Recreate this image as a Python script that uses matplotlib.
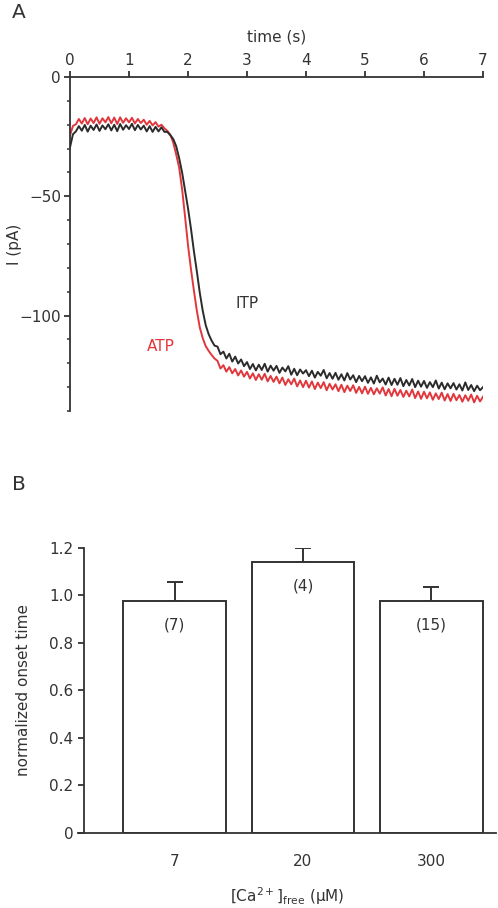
"""Current traces (ITP vs ATP) and normalized onset time vs free Ca2+."""
import matplotlib
matplotlib.use('Agg')

import matplotlib.pyplot as plt
from matplotlib.ticker import MultipleLocator
import numpy as np

# --- panel A: current traces, one value every 0.05 s from 0 to 7 s
time_s = np.round(np.arange(0, 141) * 0.05, 2)

itp_pa = [
    -29.5, -24.0, -22.8, -20.6, -22.5, -20.1, -22.9, -20.4, -22.2, -19.9,
    -22.6, -20.3, -21.9, -19.8, -22.4, -20.0, -22.7, -19.7, -22.1, -20.2,
    -21.8, -19.6, -22.3, -20.1, -22.0, -20.4, -22.8, -20.6, -23.0, -20.9,
    -22.8, -21.1, -23.0, -23.0, -24.4, -26.0, -29.0, -34.0, -40.0, -47.5,
    -55.0, -63.5, -73.0, -81.5, -90.5, -98.0, -104.0, -107.8, -110.5, -112.6,
    -113.0, -116.2, -115.1, -118.0, -116.0, -119.3, -117.2, -120.1, -118.4, -121.2,
    -119.5, -122.4, -120.3, -123.0, -120.6, -122.8, -120.2, -123.5, -121.0, -123.1,
    -121.1, -124.0, -121.8, -123.4, -121.2, -124.8, -122.3, -125.0, -122.6, -124.3,
    -122.9, -125.4, -123.1, -126.0, -123.6, -125.2, -122.8, -126.3, -124.1, -126.5,
    -124.0, -126.9, -124.6, -127.2, -124.1, -126.8, -125.0, -127.9, -125.3, -127.5,
    -125.4, -128.2, -125.9, -128.5, -125.2, -128.0, -126.4, -128.9, -126.0, -129.1,
    -126.5, -129.0, -126.2, -129.6, -127.0, -129.3, -126.6, -130.0, -127.3, -129.8,
    -127.4, -130.3, -127.9, -130.0, -127.2, -130.6, -128.1, -130.9, -128.4, -130.5,
    -128.3, -131.0, -128.8, -131.4, -128.0, -131.2, -129.1, -131.7, -129.4, -131.3,
    -130.0,
]

atp_pa = [
    -24.5, -20.5, -19.8, -17.6, -19.5, -17.2, -19.8, -17.4, -19.3, -16.9,
    -19.6, -17.3, -19.0, -16.8, -19.4, -17.0, -19.7, -16.9, -19.2, -17.3,
    -19.0, -17.1, -19.5, -17.6, -19.3, -17.9, -20.0, -18.4, -20.3, -18.9,
    -20.8, -20.0, -21.5, -22.6, -24.2, -27.5, -32.5, -38.0, -47.0, -58.5,
    -70.5, -80.5, -89.5, -98.0, -105.0, -109.5, -112.8, -114.8, -116.5, -118.0,
    -119.0, -122.2, -120.8, -123.5, -121.6, -124.2, -122.4, -125.1, -123.0, -125.6,
    -123.6, -126.4, -124.2, -127.0, -124.6, -126.9, -124.4, -127.6, -125.3, -127.8,
    -125.6, -128.4, -126.0, -129.1, -126.7, -128.8, -126.4, -129.7, -127.2, -130.0,
    -127.3, -130.2, -127.6, -130.8, -128.1, -130.4, -127.9, -131.3, -128.6, -131.0,
    -128.8, -131.7, -129.0, -132.1, -129.4, -131.6, -129.2, -132.4, -129.9, -132.6,
    -129.8, -132.8, -130.3, -133.0, -130.5, -132.7, -130.1, -133.5, -130.8, -133.8,
    -130.7, -133.6, -131.2, -134.1, -131.5, -133.9, -131.0, -134.6, -131.8, -134.9,
    -131.9, -134.7, -132.2, -135.3, -132.6, -135.0, -132.3, -135.6, -132.9, -135.8,
    -132.8, -135.5, -133.3, -136.1, -133.4, -135.7, -133.1, -136.4, -133.6, -136.0,
    -134.0,
]

# --- panel B: normalized onset time
ca_labels = ['7', '20', '300']
onset_mean = [0.974, 1.140, 0.974]
onset_sem = [0.083, 0.059, 0.061]
n_cells = [7, 4, 15]

###

dark = '#333333'
red = '#e1373c'

plt.rcParams.update({
    'font.family': 'DejaVu Sans',
    'font.size': 11,
    'text.color': dark,
    'axes.edgecolor': dark,
    'axes.labelcolor': dark,
    'xtick.color': dark,
    'ytick.color': dark,
})

fig = plt.figure(figsize=(4.98, 9.08), dpi=100)

# panel A
ax = fig.add_axes([70 / 498, 1 - 411 / 908, 413 / 498, 334 / 908])

ax.plot(time_s, atp_pa, color=red, lw=1.4, zorder=2)
ax.plot(time_s, itp_pa, color='#2b2b2b', lw=1.4, zorder=3)

ax.text(1.30, -113, 'ATP', color=red, fontsize=11, va='center', ha='left')
ax.text(2.81, -95, 'ITP', color=dark, fontsize=11, va='center', ha='left')

ax.set_xlim(0, 7)
ax.set_ylim(-140, 0)

ax.xaxis.tick_top()
ax.xaxis.set_label_position('top')
ax.set_xticks(range(0, 8))
ax.set_xlabel('time (s)', labelpad=8)

ax.set_yticks([0, -50, -100])
ax.set_yticklabels(['0', '\u221250', '\u2212100'])
ax.yaxis.set_minor_locator(MultipleLocator(10))
ax.set_ylabel('I (pA)')
ax.yaxis.set_label_coords(-0.117, 0.5)

for side in ['bottom', 'right']:
    ax.spines[side].set_visible(False)
for side in ['top', 'left']:
    ax.spines[side].set_linewidth(1.3)

ax.tick_params(which='major', direction='out', length=4.5, width=1.3, pad=2)
ax.tick_params(which='minor', direction='out', length=2.2, width=1.1)
ax.tick_params(axis='x', which='minor', top=False, bottom=False)

fig.text(12 / 498, 1 - 13 / 908, 'A', fontsize=14.5, va='center', ha='left')

# panel B
bx = fig.add_axes([78 / 498, 1 - 833 / 908, 418 / 498, 285.3 / 908])

xpos = np.arange(len(ca_labels))
bx.bar(
    xpos,
    onset_mean,
    width=0.8,
    color='white',
    edgecolor=dark,
    linewidth=1.4,
    zorder=2,
)
bx.errorbar(
    xpos,
    onset_mean,
    yerr=[np.zeros(len(onset_sem)), onset_sem],
    fmt='none',
    ecolor=dark,
    elinewidth=1.4,
    capsize=5.8,
    capthick=1.4,
    zorder=1,
)

for x, m, n in zip(xpos, onset_mean, n_cells):
    bx.text(x, m - 0.1, f'({n})', ha='center', va='center', fontsize=11)

bx.set_xlim(-0.751, 2.502)
bx.set_ylim(0, 1.2)

bx.set_xticks(xpos)
bx.set_xticklabels(ca_labels)
bx.set_xlabel('[Ca$^{2+}$]$_{\\mathrm{free}}$ (\u03bcM)', labelpad=12)

bx.set_yticks([0, 0.2, 0.4, 0.6, 0.8, 1.0, 1.2])
bx.set_yticklabels(['0', '0.2', '0.4', '0.6', '0.8', '1.0', '1.2'])
bx.set_ylabel('normalized onset time', labelpad=13)

bx.spines['left'].set_position(('data', -0.704))
for side in ['top', 'right']:
    bx.spines[side].set_visible(False)
for side in ['bottom', 'left']:
    bx.spines[side].set_linewidth(1.3)

bx.tick_params(axis='y', direction='out', length=4.5, width=1.3, pad=3)
bx.tick_params(axis='x', length=0, pad=15)

fig.text(12 / 498, 1 - 485 / 908, 'B', fontsize=14.5, va='center', ha='left')

fig.savefig('out.png', dpi=100)
plt.close(fig)
